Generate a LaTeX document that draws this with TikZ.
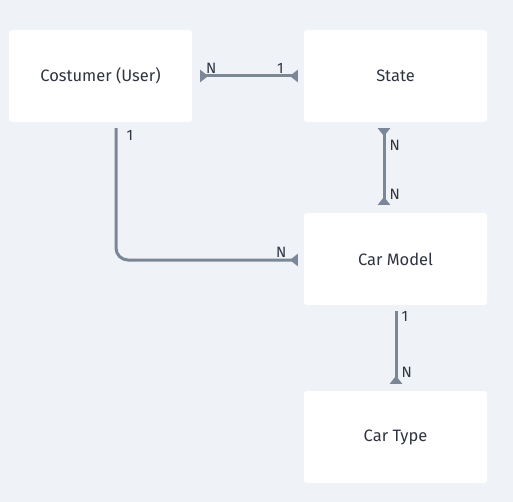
\documentclass[tikz,border=0pt]{standalone}
\usepackage{fontspec}
\setmainfont{Fira Sans}
\usetikzlibrary{arrows.meta,positioning}
\definecolor{bgcol}{HTML}{EFF2F6}
\definecolor{linecol}{HTML}{7B8796}
\definecolor{txtcol}{HTML}{2E3440}

\begin{document}
\begin{tikzpicture}[x=1pt,y=-1pt,
    entity/.style={fill=white,rounded corners=3pt,minimum width=183pt,minimum height=92pt,
      inner sep=0,text=txtcol,font=\fontsize{16.5}{18}\selectfont},
    rel/.style={line width=3pt,draw=linecol},
    crow/.style={-{Triangle[reversed,width=12pt,length=8pt]}},
    lbl/.style={text=txtcol,inner sep=1pt,font=\fontsize{15}{17}\selectfont}]
\fill[bgcol] (0,0) rectangle (513,502);
\useasboundingbox (0,0) rectangle (513,502);
\node[entity] (user) at (100.5,76) {Costumer (User)};
\node[entity] (state) at (395.5,76) {State};
\node[entity] (model) at (395.5,259) {Car Model};
\node[entity] (type) at (395.5,437) {Car Type};
\draw[rel,{Triangle[reversed,width=12pt,length=8pt]}-{Triangle[reversed,width=12pt,length=8pt]},
    shorten <=8pt,shorten >=6pt] (user.east) -- 
    node[lbl,pos=0.17,above] {N} node[lbl,pos=0.79,above] {1} (state.west);
\draw[rel,{Triangle[reversed,width=12pt,length=8pt]}-{Triangle[reversed,width=12pt,length=8pt]},
    shorten <=6pt,shorten >=8pt] ([xshift=-11.5pt]state.south) -- 
    node[lbl,pos=0.25,right=3pt] {N} node[lbl,pos=0.80,right=3pt] {N} ([xshift=-11.5pt]model.north);
\draw[rel,crow,shorten <=6pt,shorten >=7pt] ([xshift=0.5pt]model.south) -- 
    node[lbl,pos=0.13,right=3pt] {1} node[lbl,pos=0.79,right=3pt] {N} ([xshift=0.5pt]type.north);
\draw[rel,crow,rounded corners=12pt,shorten <=6pt,shorten >=6pt] ([xshift=15.5pt]user.south) |- 
    node[lbl,pos=0.05,right=8pt] {1} node[lbl,pos=0.94,above=0pt] {N} ([yshift=-1pt]model.west);
\end{tikzpicture}
\end{document}
